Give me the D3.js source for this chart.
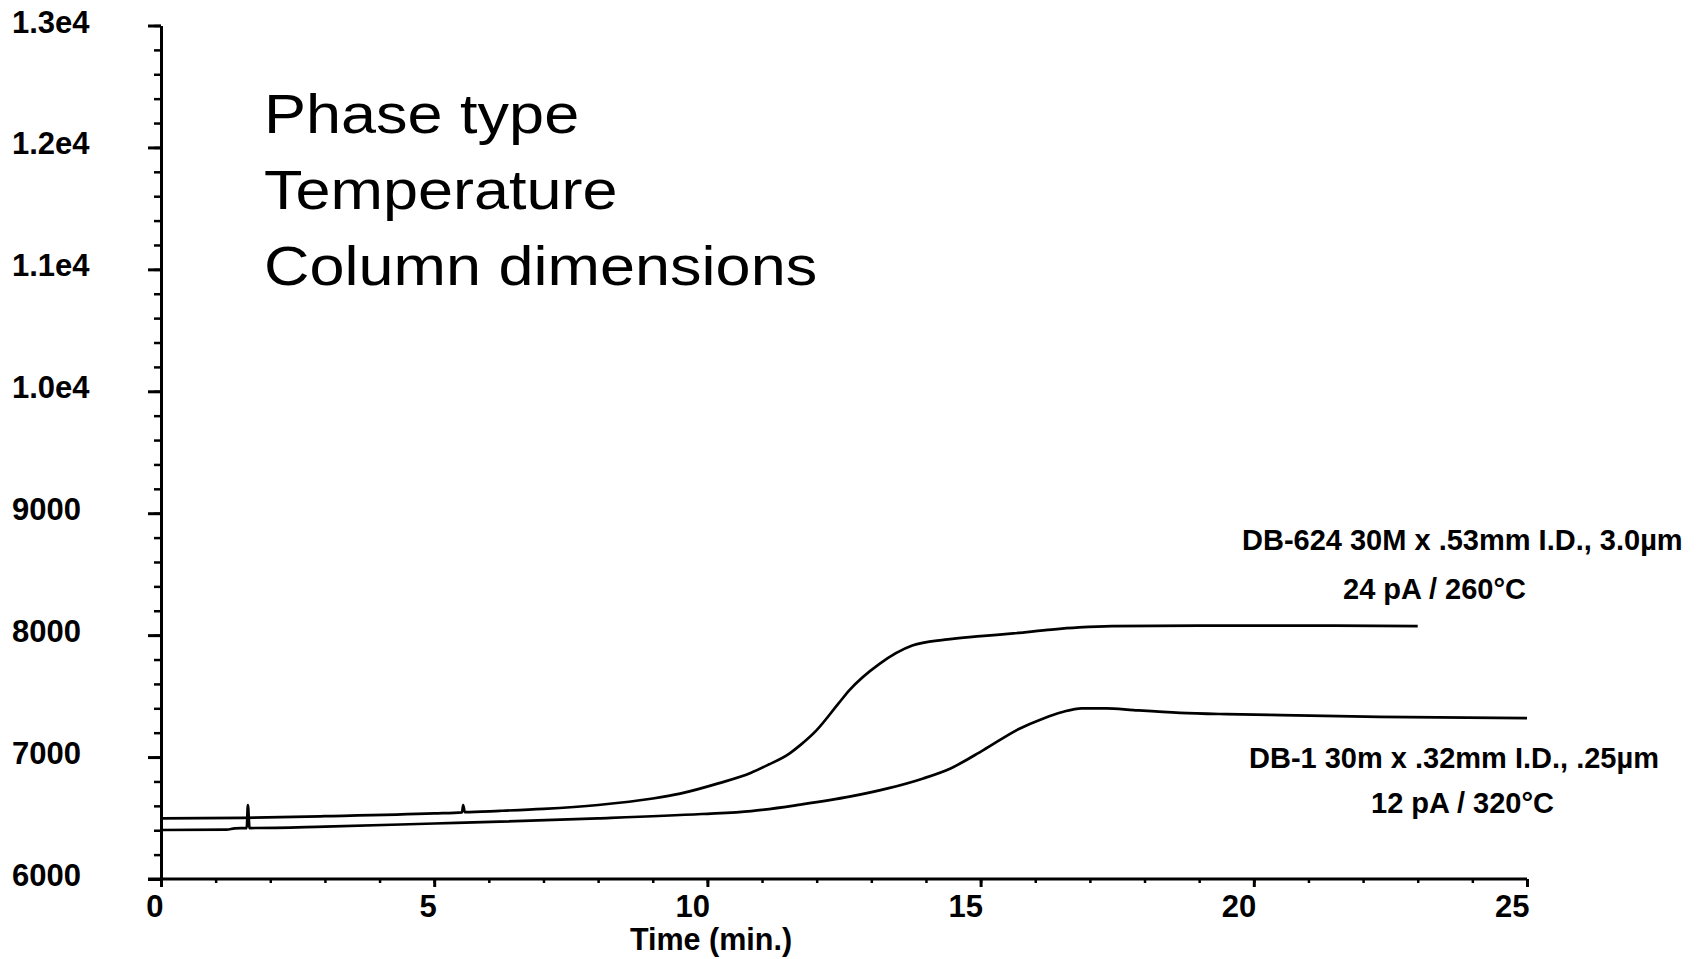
<!DOCTYPE html>
<html>
<head>
<meta charset="utf-8">
<script src="https://cdn.jsdelivr.net/npm/d3@7"></script>
<style>
  html, body { margin: 0; padding: 0; background: #fff; }
  text { font-family: Arial, 'Liberation Sans', sans-serif; fill: #000; }
</style>
</head>
<body>
<div id="chart"></div>
<script>
// Chromatogram baselines (time in min, detector signal)
const db624Time = [0, 1.5, 3, 5, 5.51, 5.53, 5.56, 6.2, 7, 8, 9, 9.5, 10.2, 10.8, 11.1, 11.5, 11.7, 12.0, 12.4, 12.6, 13.15, 13.75, 14.35, 15.0, 15.6, 16.3, 16.8, 17.4, 19, 21, 23];
const db624Signal = [6497, 6502, 6515, 6538, 6547, 6607, 6549, 6559, 6575, 6607, 6660, 6700, 6784, 6871, 6934, 7029, 7098, 7221, 7440, 7549, 7765, 7915, 7963, 7992, 8014, 8046, 8063, 8074, 8078, 8078, 8074];

const db1Time = [0, 1.2, 1.35, 1.57, 1.59, 1.62, 3, 5, 6.2, 8, 9.9, 10.8, 11.7, 12.6, 13.3, 13.95, 14.45, 15.05, 15.7, 16.15, 16.5, 16.85, 17.3, 17.8, 18.65, 19.5, 20.5, 22.3, 25];
const db1Signal = [6402, 6405, 6415, 6418, 6607, 6418, 6430, 6455, 6470, 6497, 6533, 6557, 6610, 6675, 6743, 6825, 6907, 7057, 7230, 7317, 7370, 7400, 7400, 7385, 7363, 7352, 7344, 7330, 7320];

const yMajorTicks = [6000, 7000, 8000, 9000, 10000, 11000, 12000, 13000];
const yTickLabels = ['6000', '7000', '8000', '9000', '1.0e4', '1.1e4', '1.2e4', '1.3e4'];
const xMajorTicks = [0, 5, 10, 15, 20, 25];

const notes = ['Phase type', 'Temperature', 'Column dimensions'];
const db624Label = ['DB-624 30M x .53mm I.D., 3.0µm', '24 pA / 260°C'];
const db1Label = ['DB-1 30m x .32mm I.D., .25µm', '12 pA / 320°C'];

const width = 1705;
const height = 959;

const svg = d3.select('#chart')
  .append('svg')
  .attr('width', width)
  .attr('height', height)
  .style('display', 'block');

svg.append('rect').attr('width', width).attr('height', height).attr('fill', '#fff');

const x = d3.scaleLinear().domain([0, 25]).range([161, 1527]);
const y = d3.scaleLinear().domain([6000, 13000]).range([879, 25.5]);

// y axis: minor ticks every 200, major every 1000
const yMinor = svg.append('g')
  .attr('transform', `translate(${x(0)},0)`)
  .call(d3.axisLeft(y).tickValues(d3.range(6000, 13001, 200)).tickSize(7).tickSizeOuter(0).tickFormat(''));
yMinor.select('.domain').attr('stroke-width', 3).attr('stroke', '#000');
yMinor.selectAll('.tick line').attr('stroke-width', 2.5).attr('stroke', '#000');

const yMajor = svg.append('g')
  .attr('transform', `translate(${x(0)},0)`)
  .call(d3.axisLeft(y).tickValues(yMajorTicks).tickSize(13).tickSizeOuter(0)
    .tickFormat((d, i) => yTickLabels[i]));
yMajor.select('.domain').remove();
yMajor.selectAll('.tick line').attr('stroke-width', 3).attr('stroke', '#000');
yMajor.selectAll('.tick text')
  .attr('x', 12 - x(0))
  .attr('dy', null)
  .attr('y', 6.5)
  .attr('text-anchor', 'start')
  .style('font-size', '31px')
  .style('font-weight', 'bold');

// x axis: minor ticks every minute, major every 5
const xMinor = svg.append('g')
  .attr('transform', `translate(0,${y(6000)})`)
  .call(d3.axisBottom(x).tickValues(d3.range(0, 26, 1)).tickSize(4).tickSizeOuter(0).tickFormat(''));
xMinor.select('.domain').attr('stroke-width', 3).attr('stroke', '#000')
  .attr('d', `M${x(0) - 13},0H${x(25)}`);
xMinor.selectAll('.tick line').attr('stroke-width', 2.5).attr('stroke', '#000');

const xMajor = svg.append('g')
  .attr('transform', `translate(0,${y(6000)})`)
  .call(d3.axisBottom(x).tickValues(xMajorTicks).tickSize(8).tickSizeOuter(0).tickFormat(d3.format('d')));
xMajor.select('.domain').remove();
xMajor.selectAll('.tick line').attr('stroke-width', 3).attr('stroke', '#000');
xMajor.selectAll('.tick text')
  .attr('x', 2)
  .attr('y', 38)
  .attr('dy', null)
  .attr('text-anchor', 'end')
  .style('font-size', '31px')
  .style('font-weight', 'bold');

svg.append('text')
  .attr('x', 711)
  .attr('y', 950)
  .attr('text-anchor', 'middle')
  .style('font-size', '30.5px')
  .style('font-weight', 'bold')
  .text('Time (min.)');

// traces
const line = d3.line()
  .x((d) => x(d[0]))
  .y((d) => y(d[1]))
  .curve(d3.curveMonotoneX);

[[db624Time, db624Signal], [db1Time, db1Signal]].forEach(([t, s]) => {
  svg.append('path')
    .datum(t.map((v, i) => [v, s[i]]))
    .attr('fill', 'none')
    .attr('stroke', '#000')
    .attr('stroke-width', 2.7)
    .attr('stroke-linejoin', 'round')
    .attr('d', line);
});

// big notes (the source text is a bit stretched sideways)
svg.append('g')
  .attr('transform', 'translate(264,0) scale(1.125,1)')
  .selectAll('.note')
  .data(notes)
  .enter()
  .append('text')
  .attr('class', 'note')
  .attr('x', 0)
  .attr('y', (d, i) => 133 + i * 76)
  .style('font-size', '56px')
  .text((d) => d);

// column labels
const labelSpots = [
  { text: db624Label[0], x: 1242, y: 550 },
  { text: db624Label[1], x: 1343, y: 599 },
  { text: db1Label[0], x: 1249, y: 768 },
  { text: db1Label[1], x: 1371, y: 813 },
];
svg.selectAll('.col-label')
  .data(labelSpots)
  .enter()
  .append('text')
  .attr('class', 'col-label')
  .attr('x', (d) => d.x)
  .attr('y', (d) => d.y)
  .style('font-size', '29px')
  .style('font-weight', 'bold')
  .text((d) => d.text);
</script>
</body>
</html>
